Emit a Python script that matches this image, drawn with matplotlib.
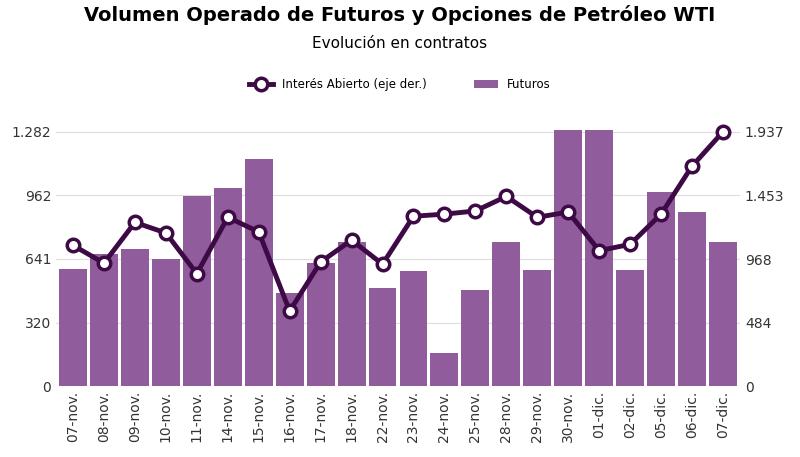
import matplotlib
matplotlib.use("Agg")
import matplotlib.pyplot as plt
import numpy as np

fechas = ["07-nov.", "08-nov.", "09-nov.", "10-nov.", "11-nov.", "14-nov.", "15-nov.",
          "16-nov.", "17-nov.", "18-nov.", "22-nov.", "23-nov.", "24-nov.", "25-nov.",
          "28-nov.", "29-nov.", "30-nov.", "01-dic.", "02-dic.", "05-dic.", "06-dic.", "07-dic."]
futuros = [588, 667, 693, 641, 956, 998, 1145, 468, 620, 725, 494, 578, 168, 483,
           725, 583, 1292, 1292, 583, 977, 877, 725]
interes = [1072, 937, 1247, 1167, 857, 1286, 1175, 572, 945, 1112, 929, 1294, 1310, 1334,
           1445, 1286, 1326, 1032, 1080, 1310, 1675, 1937]
ticks_izq = [0, 320, 641, 962, 1282]
ticks_der = [0, 484, 968, 1453, 1937]

fig, ax = plt.subplots(figsize=(8, 4.57), dpi=100)
fig.subplots_adjust(left=0.07, right=0.925, top=0.745, bottom=0.155)
x = np.arange(len(fechas))

ax.bar(x, futuros, width=0.9, color="#915C9C", label="Futuros", zorder=2)
ax.set_ylim(0, 1282 * 1.06)
ax.set_yticks(ticks_izq)
ax.set_yticklabels([f"{t:,}".replace(",", ".") for t in ticks_izq])
ax.set_xlim(-0.55, len(fechas) - 0.45)
ax.set_xticks(x)
ax.set_xticklabels(fechas, rotation=90)
ax.grid(axis="y", color="#DDDDDD", zorder=0)
ax.tick_params(length=0, labelsize=10, colors="#333333")
for s in ax.spines.values():
    s.set_visible(False)

ax2 = ax.twinx()
ax2.plot(x, interes, color="#3D0A45", lw=3.5, marker="o", ms=9, mfc="white",
         mec="#3D0A45", mew=2.5, label="Interés Abierto (eje der.)", zorder=3)
ax2.set_ylim(0, 1937 * 1.06)
ax2.set_yticks(ticks_der)
ax2.set_yticklabels([f"{t:,}".replace(",", ".") for t in ticks_der])
ax2.tick_params(length=0, labelsize=10, colors="#333333")
for s in ax2.spines.values():
    s.set_visible(False)

h1, l1 = ax2.get_legend_handles_labels()
h2, l2 = ax.get_legend_handles_labels()
fig.legend(h1 + h2, l1 + l2, loc="center", bbox_to_anchor=(0.5, 0.815), ncol=2,
           frameon=False, fontsize=8.5, columnspacing=4)

fig.text(0.5, 0.955, "Volumen Operado de Futuros y Opciones de Petróleo WTI",
         ha="center", fontsize=14, fontweight="bold")
fig.text(0.5, 0.895, "Evolución en contratos", ha="center", fontsize=11)

fig.savefig("out.png")
